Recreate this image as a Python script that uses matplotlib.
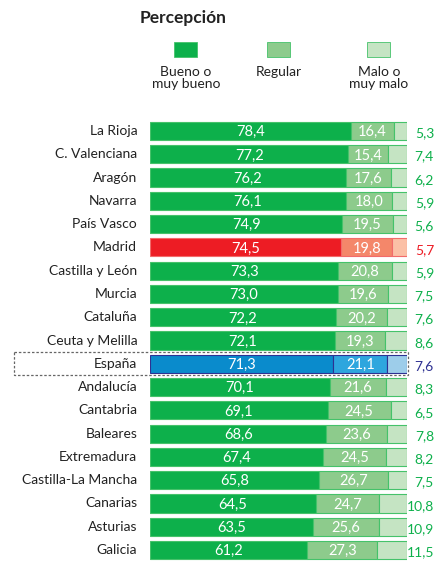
import numpy as np
import matplotlib.pyplot as plt
from matplotlib.patches import Rectangle

plt.rcParams['font.family'] = ['Lato', 'DejaVu Sans']

# Data
regiones = ["La Rioja", "C. Valenciana", "Aragón", "Navarra", "País Vasco", "Madrid",
            "Castilla y León", "Murcia", "Cataluña", "Ceuta y Melilla", "España",
            "Andalucía", "Cantabria", "Baleares", "Extremadura", "Castilla-La Mancha",
            "Canarias", "Asturias", "Galicia"]
bueno = [78.4, 77.2, 76.2, 76.1, 74.9, 74.5, 73.3, 73.0, 72.2, 72.1, 71.3,
         70.1, 69.1, 68.6, 67.4, 65.8, 64.5, 63.5, 61.2]
regular = [16.4, 15.4, 17.6, 18.0, 19.5, 19.8, 20.8, 19.6, 20.2, 19.3, 21.1,
           21.6, 24.5, 23.6, 24.5, 26.7, 24.7, 25.6, 27.3]
malo = [5.3, 7.4, 6.2, 5.9, 5.6, 5.7, 5.9, 7.5, 7.6, 8.6, 7.6,
        8.3, 6.5, 7.8, 8.2, 7.5, 10.8, 10.9, 11.5]

def fmt(v):
    return "{:.1f}".format(v).replace(".", ",")

# colour sets: fill1, fill2, fill3, edge, right-text
verde = ("#0db04b", "#8dcb8c", "#c5e4c3", "#45c26a", "#0db04b")
rojo = ("#ed1c24", "#f4876a", "#fbc0a6", "#f26b6b", "#ed1c24")
azul = ("#0a8bcc", "#2ea6de", "#9dcdea", "#2e3192", "#2e3192")

W, H = 435, 562
fig = plt.figure(figsize=(W / 100, H / 100), dpi=100)
n = len(regiones)
step = 23.28
top = 131 - step / 2
ax = fig.add_axes([150 / W, 1 - (top + n * step) / H, 257 / W, n * step / H])
ax.set_xlim(0, 100)
ax.set_ylim(n - 0.5, -0.5)
ax.axis("off")

# right-hand labels: x in figure coords, y in data coords
trans_r = plt.matplotlib.transforms.blended_transform_factory(fig.transFigure, ax.transData)

for i, reg in enumerate(regiones):
    c = rojo if reg == "Madrid" else azul if reg == "España" else verde
    a, b, m = bueno[i], regular[i], malo[i]
    rest = 100 - a - b
    ax.barh(i, a, height=0.78, color=c[0], edgecolor=c[3], linewidth=0.8)
    ax.barh(i, b, left=a, height=0.78, color=c[1], edgecolor=c[3], linewidth=0.8)
    ax.barh(i, rest, left=a + b, height=0.78, color=c[2], edgecolor=c[3], linewidth=0.8)
    ax.text(a / 2, i + 0.05, fmt(a), color="white", ha="center", va="center", fontsize=10.5)
    ax.text(a + b / 2, i + 0.05, fmt(b), color="white", ha="center", va="center", fontsize=10.5)
    ax.text(-5, i, reg, ha="right", va="center", fontsize=10, color="#222222")
    ax.text(434 / W, i + 0.1, fmt(m), ha="right", va="center", fontsize=10,
            color=c[4], transform=trans_r, clip_on=False)

# dashed box around España
k = regiones.index("España")
box = Rectangle((-53, k - 0.5), 153.5, 1.0, fill=False, linestyle=(0, (2, 1.5)),
                edgecolor="#666666", linewidth=0.9, clip_on=False)
ax.add_patch(box)

# legend
fig.text(140 / W, 1 - 18 / H, "Percepción", fontsize=12.5, fontweight="bold",
         ha="left", va="center", color="#222222")
leg_x = [186, 279, 379]
leg_col = verde[:3]
leg_lab = ["Bueno o\nmuy bueno", "Regular", "Malo o\nmuy malo"]
for x, col, lab in zip(leg_x, leg_col, leg_lab):
    fig.patches.append(Rectangle(((x - 11.5) / W, 1 - 57 / H), 23 / W, 15 / H,
                                 transform=fig.transFigure, facecolor=col,
                                 edgecolor="#45c26a", linewidth=0.6))
    fig.text(x / W, 1 - 66 / H, lab, fontsize=10, ha="center", va="top",
             color="#222222", linespacing=1.0)

fig.savefig("out.png", dpi=100)
